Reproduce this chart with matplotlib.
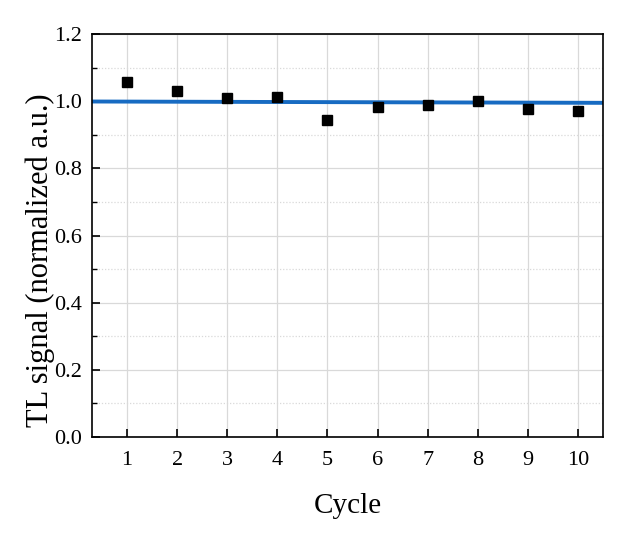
import numpy as np
import matplotlib.pyplot as plt
from matplotlib.ticker import MultipleLocator

plt.rcParams['font.family'] = ['Liberation Serif', 'DejaVu Serif']

cycles = [1, 2, 3, 4, 5, 6, 7, 8, 9, 10]
tl_signal = [1.057, 1.031, 1.010, 1.012, 0.945, 0.983, 0.989, 1.001, 0.978, 0.972]

fit_x = [0.3, 10.5]
fit_y = [0.999, 0.995]

fig = plt.figure(figsize=(6.37, 5.38), dpi=100)
ax = fig.add_axes([0.1444, 0.1877, 0.8022, 0.7491])

ax.grid(True, which='major', color='#d9d9d9', linewidth=0.9, linestyle='-')
ax.grid(True, which='minor', axis='y', color='#d9d9d9', linewidth=0.9, linestyle=(0, (1, 1.5)))
ax.set_axisbelow(True)

ax.plot(fit_x, fit_y, color='#176bc2', linewidth=2.8, zorder=2)
ax.plot(cycles, tl_signal, linestyle='none', marker='s', markersize=7.5, color='black', zorder=3)

ax.set_xlim(0.3, 10.5)
ax.set_ylim(0.0, 1.2)
ax.set_xticks(cycles)
ax.yaxis.set_major_locator(MultipleLocator(0.2))
ax.yaxis.set_minor_locator(MultipleLocator(0.1))
ax.yaxis.set_major_formatter(plt.FormatStrFormatter('%.1f'))

ax.tick_params(axis='both', which='major', direction='in', length=6, width=1.2, labelsize=16)
ax.tick_params(axis='y', which='major', pad=7)
ax.tick_params(axis='x', which='major', pad=10)
ax.tick_params(axis='y', which='minor', direction='in', length=3.5, width=1.0)

for sp in ax.spines.values():
    sp.set_linewidth(1.2)

ax.set_xlabel('Cycle', fontsize=21)
ax.xaxis.set_label_coords(0.5, -0.14)
ax.set_ylabel('TL signal (normalized a.u.)', fontsize=22)
ax.yaxis.set_label_coords(-0.072, 0.439)

fig.savefig('out.png', dpi=100)
